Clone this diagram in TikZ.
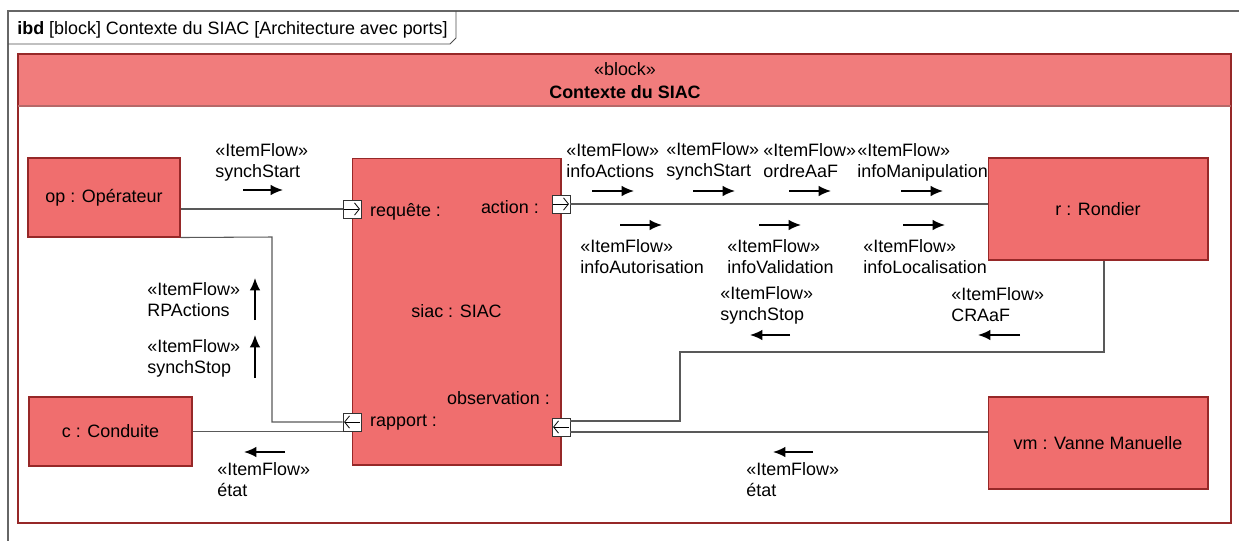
\documentclass[tikz,border=0pt]{standalone}
\usepackage{fontspec}
\setmainfont{Liberation Sans}
\usetikzlibrary{arrows.meta,calc,positioning}

\definecolor{blockfill}{RGB}{240,110,110}
\definecolor{headfill}{RGB}{241,124,124}
\definecolor{blockedge}{RGB}{150,40,40}
\newcommand\ibdfont{\fontsize{10.2}{12}\selectfont}

\tikzset{
  part/.style={draw=blockedge, fill=blockfill, line width=0.6pt, inner sep=0pt},
  port/.style={draw=black!80, fill=white, line width=0.5pt, minimum size=0.36cm, inner sep=0pt},
  link/.style={draw=black!65, line width=0.6pt},
  flow/.style={-{Latex[length=7pt,width=6pt]}, line width=1pt},
  flowlabel/.style={anchor=west, align=left, inner sep=0pt},
  portglyph/.style={-{Straight Barb[length=2.8pt,width=7pt]}, line width=0.45pt},
}

\begin{document}
\begin{tikzpicture}[x=0.02cm, y=-0.02cm, font=\ibdfont]
  \useasboundingbox (0,0) rectangle (1239,541);
  % diagram frame and tab
  \draw[black!60, line width=0.7pt] (1239,11) -- (8,11) -- (8,541);
  \draw[black!70, line width=0.5pt] (8,44) -- (450,44) -- (456,38) -- (456,11);
  \node[anchor=west, inner sep=0pt] (title) at (17,30) {\textbf{ibd} [block] Contexte du SIAC [Architecture avec ports]};
  % context block
  \fill[headfill] (18,54) rectangle (1231,106);
  \draw[blockedge, line width=0.6pt] (18,54) rectangle (1231,523);
  \draw[blockedge!70, line width=0.6pt] (18,106) -- (1231,106);
  \node (stereo) at (625,69) {«block»};
  \node[font=\ibdfont\bfseries] (ctx) at (625,92) {Contexte du SIAC};
  % parts
  \node[part, minimum width=3.04cm, minimum height=1.58cm] (op) at (104,197.5) {op : Opérateur};
  \node[part, minimum width=3.26cm, minimum height=1.38cm] (c) at (110.5,431.5) {c : Conduite};
  \node[part, minimum width=4.18cm, minimum height=6.14cm] (siac) at (456.5,311.5) {siac : SIAC};
  \node[part, minimum width=4.40cm, minimum height=2.04cm] (r) at (1098,209) {r : Rondier};
  \node[part, minimum width=4.40cm, minimum height=1.84cm] (vm) at (1098,443) {vm : Vanne Manuelle};
  % ports
  \node[port] (pReq) at (352,209) {};
  \node[port] (pAct) at (561,204) {};
  \node[port] (pRap) at (352,422) {};
  \node[port] (pObs) at (561,427) {};
  \draw[portglyph] ([xshift=-4.5pt]pReq.center) -- ([xshift=4.5pt]pReq.center);
  \draw[portglyph] ([xshift=-4.5pt]pAct.center) -- ([xshift=4.5pt]pAct.center);
  \draw[portglyph] ([xshift=4.5pt]pRap.center) -- ([xshift=-4.5pt]pRap.center);
  \draw[portglyph] ([xshift=4.5pt]pObs.center) -- ([xshift=-4.5pt]pObs.center);
  \node[anchor=west] (lReq) at (364,212) {requête :};
  \node[anchor=east] (lAct) at (545,207) {action :};
  \node[anchor=west] (lRap) at (364,423) {rapport :};
  \node[anchor=east] (lObs) at (556,398) {observation :};
  % connectors
  \coordinate (k1) at (272,237);
  \coordinate (k2) at (1104,352);
  \coordinate (k3) at (680,352);
  \coordinate (k4) at (680,421);
  \coordinate (k5) at (988,432);
  \draw[link] (op.east |- pReq) -- (pReq.west);
  \draw[link] (pAct.east) -- (r.west |- pAct);
  \draw[link] (op.south east) -- (k1) |- (pRap.west);
  \draw[link] (c.east) -- (c.east -| pRap.west);
  \draw[link] (r.south -| k2) -- (k2) -- (k3) -- (k4) -- (k4 -| pObs.east);
  \draw[link] (k5) -- (k5 -| pObs.east);
  % item flows: op / siac / c
  \node[flowlabel] (fSynchStart) at (215,162) {«ItemFlow»\\synchStart};
  \node[flowlabel] (fRPActions) at (147,300) {«ItemFlow»\\RPActions};
  \node[flowlabel] (fSynchStopA) at (147,358) {«ItemFlow»\\synchStop};
  \node[flowlabel] (fEtatC) at (217,480) {«ItemFlow»\\état};
  \draw[flow] (243,190) -- (283,190);
  \draw[flow] (255,320) -- (255,278);
  \draw[flow] (255,378) -- (255,335);
  \draw[flow] (285,452) -- (244,452);
  % item flows: siac / r / vm
  \node[flowlabel] (fInfoActions) at (566,161) {«ItemFlow»\\infoActions};
  \node[flowlabel] (fSynchStartR) at (666,161) {«ItemFlow»\\synchStart};
  \node[flowlabel] (fOrdreAaF) at (763,161) {«ItemFlow»\\ordreAaF};
  \node[flowlabel] (fInfoManip) at (857,162) {«ItemFlow»\\infoManipulation};
  \node[flowlabel] (fInfoAutor) at (580,257) {«ItemFlow»\\infoAutorisation};
  \node[flowlabel] (fInfoValid) at (727,257) {«ItemFlow»\\infoValidation};
  \node[flowlabel] (fInfoLoc) at (863,257) {«ItemFlow»\\infoLocalisation};
  \node[flowlabel] (fSynchStopB) at (720,305) {«ItemFlow»\\synchStop};
  \node[flowlabel] (fCRAaF) at (951,305) {«ItemFlow»\\CRAaF};
  \node[flowlabel] (fEtatVM) at (746,480) {«ItemFlow»\\état};
  \draw[flow] (592,191) -- (634,191);
  \draw[flow] (693,191) -- (735,191);
  \draw[flow] (789,191) -- (831,191);
  \draw[flow] (901,191) -- (943,191);
  \draw[flow] (620,225) -- (662,225);
  \draw[flow] (759,225) -- (801,225);
  \draw[flow] (903,225) -- (945,225);
  \draw[flow] (790,335) -- (750,335);
  \draw[flow] (1020,335) -- (978,335);
  \draw[flow] (813,452) -- (773,452);
\end{tikzpicture}
\end{document}
